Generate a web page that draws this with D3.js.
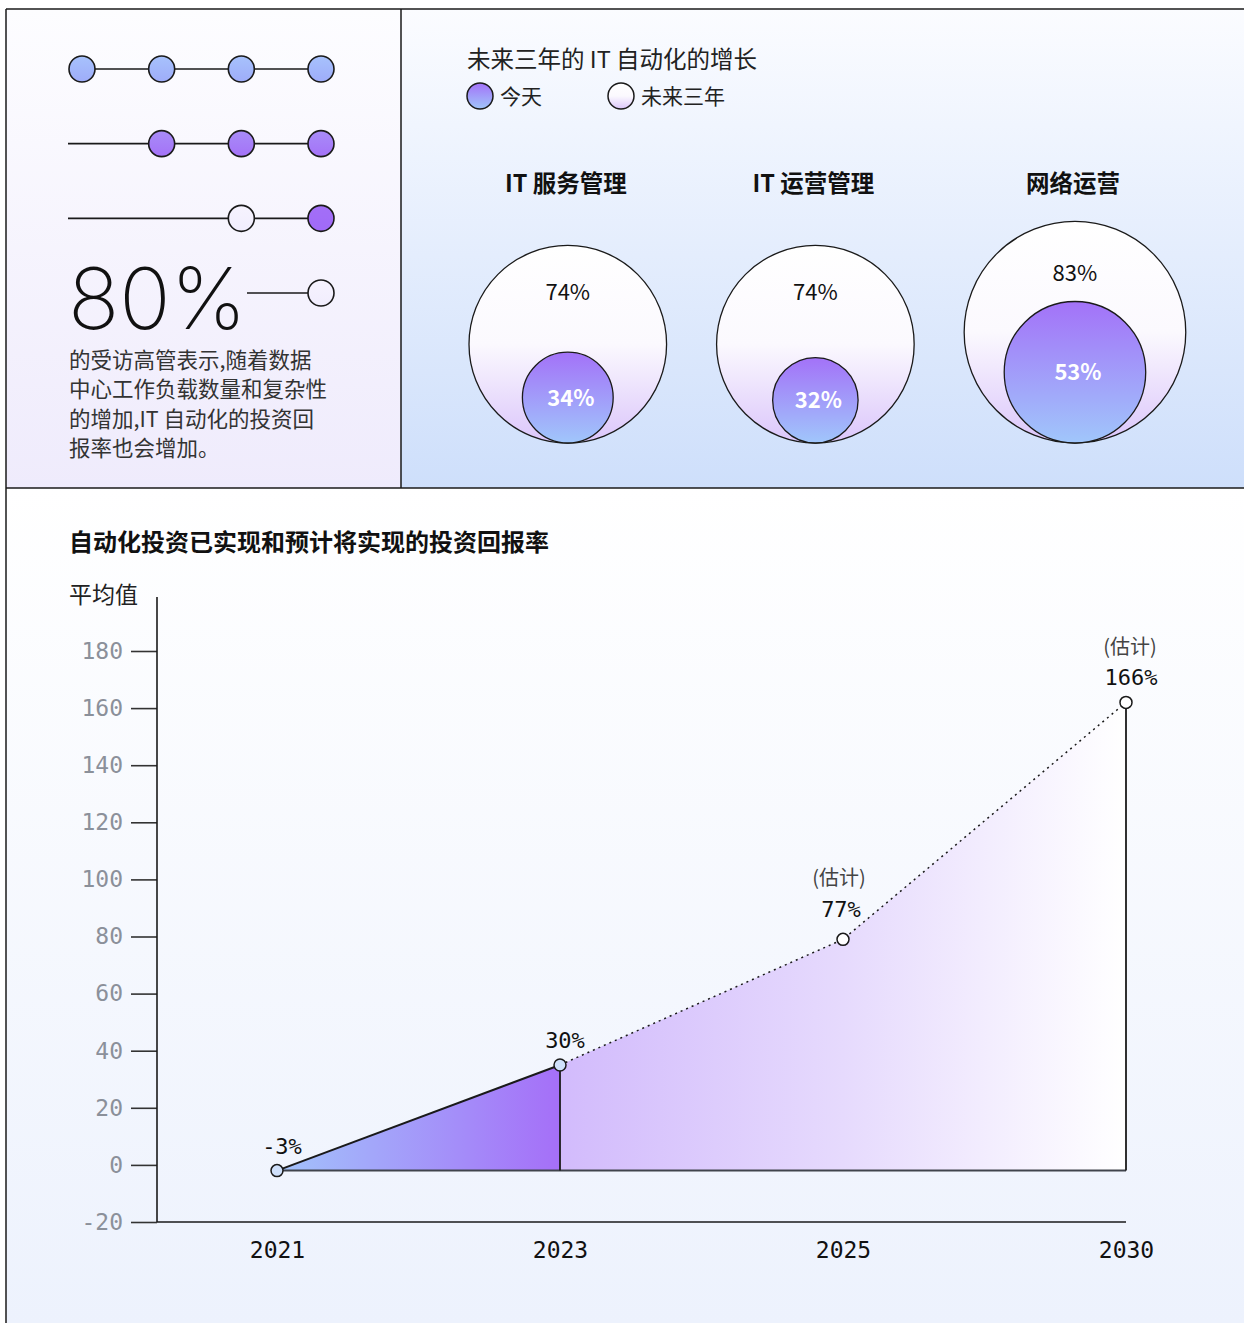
<!DOCTYPE html>
<html><head><meta charset="utf-8">
<script src="https://cdn.jsdelivr.net/npm/d3@7"></script>
<style>html,body{margin:0;padding:0;background:#fff;} svg{display:block;}</style>
</head><body><svg id="c" width="1244" height="1323"></svg>
<script>
// ---------- data ----------
const dotRowStates = [
  ["blue","blue","blue","blue"],
  [null,"purple","purple","purple"],
  [null,null,"light","violet"],
  [null,null,null,"light"]
];
const headlineValue = "80%";
const headlineText = ["的受访高管表示,随着数据","中心工作负载数量和复杂性","的增加,IT 自动化的投资回","报率也会增加。"];
const bubbleTitle = "未来三年的 IT 自动化的增长";
const legendLabels = ["今天","未来三年"];
const categories = ["IT 服务管理","IT 运营管理","网络运营"];
const todayValues = [34,32,53];
const futureValues = [74,74,83];
const chartTitle = "自动化投资已实现和预计将实现的投资回报率";
const yAxisLabel = "平均值";
const years = ["2021","2023","2025","2030"];
const roiValues = [-2,35,79,162];
const roiLabels = ["-3%","30%","77%","166%"];
const estimated = [false,false,true,true];
const estimateLabel = "(估计)";
const yTicks = [-20,0,20,40,60,80,100,120,140,160,180];

// ---------- setup ----------
const svg = d3.select("#c");
const CJK = "'Noto Sans CJK SC','Noto Sans',sans-serif";
const MONO = "'DejaVu Sans Mono','Liberation Mono',monospace";
const INK = "#1a1a1a";
const defs = svg.append("defs");
function vGrad(id, stops){
  const g = defs.append("linearGradient").attr("id",id).attr("x1",0).attr("y1",0).attr("x2",0).attr("y2",1);
  stops.forEach(s=>g.append("stop").attr("offset",s[0]).attr("stop-color",s[1]));
}
function hGrad(id, x1, x2, stops){
  const g = defs.append("linearGradient").attr("id",id).attr("gradientUnits","userSpaceOnUse")
    .attr("x1",x1).attr("y1",0).attr("x2",x2).attr("y2",0);
  stops.forEach(s=>g.append("stop").attr("offset",s[0]).attr("stop-color",s[1]));
}
vGrad("bgLeft",[[0,"#fdfdff"],[1,"#efebfc"]]);
vGrad("bgRight",[[0,"#fbfcff"],[1,"#cedffb"]]);
vGrad("bgBottom",[[0,"#ffffff"],[1,"#edf2fd"]]);
vGrad("dotBlue",[[0,"#a7c2fc"],[1,"#9eacf9"]]);
vGrad("dotPurple",[[0,"#a88cf8"],[1,"#a472f7"]]);
vGrad("dotViolet",[[0,"#a36ff7"],[1,"#a06af7"]]);
vGrad("dotLight",[[0,"#f6f3fe"],[1,"#f1edfd"]]);
vGrad("outerFill",[[0,"#ffffff"],[0.5,"#fbf9fe"],[1,"#dbc6fb"]]);
vGrad("innerFill",[[0,"#a372f8"],[1,"#a0c6fb"]]);

// panels
svg.append("rect").attr("x",6).attr("y",9).attr("width",395).attr("height",479).attr("fill","url(#bgLeft)");
svg.append("rect").attr("x",401).attr("y",9).attr("width",843).attr("height",479).attr("fill","url(#bgRight)");
svg.append("rect").attr("x",6).attr("y",488).attr("width",1238).attr("height",835).attr("fill","url(#bgBottom)");
const frame = svg.append("g").attr("stroke",INK).attr("stroke-width",1.5);
frame.append("line").attr("x1",6).attr("y1",9).attr("x2",1244).attr("y2",9);
frame.append("line").attr("x1",6).attr("y1",9).attr("x2",6).attr("y2",1323);
frame.append("line").attr("x1",401).attr("y1",9).attr("x2",401).attr("y2",488);
frame.append("line").attr("x1",6).attr("y1",488).attr("x2",1244).attr("y2",488);

// ---------- left panel ----------
const dx = d3.scalePoint().domain([0,1,2,3]).range([82,321]);
const dy = d3.scalePoint().domain([0,1,2,3]).range([69,293]);
const fillFor = {blue:"url(#dotBlue)",purple:"url(#dotPurple)",violet:"url(#dotViolet)",light:"url(#dotLight)"};
const rowsG = svg.append("g");
dotRowStates.forEach((row,ri)=>{
  const first = row.findIndex(s=>s!==null);
  const isLast = ri===dotRowStates.length-1;
  const xStart = first===0 ? dx(0) : (isLast ? 247 : 68);
  rowsG.append("line").attr("x1",xStart).attr("x2",dx(3)).attr("y1",dy(ri)).attr("y2",dy(ri))
    .attr("stroke",INK).attr("stroke-width",1.6);
  rowsG.selectAll(null).data(row.map((s,i)=>({s,i})).filter(d=>d.s)).join("circle")
    .attr("cx",d=>dx(d.i)).attr("cy",dy(ri)).attr("r",13)
    .attr("fill",d=>fillFor[d.s]).attr("stroke",INK).attr("stroke-width",1.6);
});
svg.append("text").attr("x",68).attr("y",329).text(headlineValue)
  .attr("font-family","Inter, Lato, sans-serif").attr("font-weight",200).attr("font-size",85)
  .attr("fill","#111");
svg.append("g").selectAll("text").data(headlineText).join("text")
  .attr("x",69).attr("y",(d,i)=>368+i*29.3).text(d=>d)
  .attr("font-family",CJK).attr("font-size",21.5).attr("fill","#333");

// ---------- right panel: bubbles ----------
svg.append("text").attr("x",467).attr("y",68).text(bubbleTitle)
  .attr("font-family",CJK).attr("font-size",23.5).attr("fill","#222");
const legend = svg.append("g");
const legendX = [480,621];
legendLabels.forEach((l,i)=>{
  legend.append("circle").attr("cx",legendX[i]).attr("cy",96).attr("r",13)
    .attr("fill",i===0?"url(#innerFill)":"url(#outerFill)").attr("stroke",INK).attr("stroke-width",1.5);
  legend.append("text").attr("x",legendX[i]+20).attr("y",104).text(l)
    .attr("font-family",CJK).attr("font-size",21).attr("fill","#222");
});
const rScale = d3.scaleLinear().domain([0,100]).range([0,133.5]);
const bubbleBottom = 443, gap = 50;
let cursor = 469;
const centers = futureValues.map(v=>{const r=rScale(v); const c=cursor+r; cursor += 2*r+gap; return c;});
const bub = svg.append("g").selectAll("g").data(categories).join("g");
bub.append("text").attr("x",(d,i)=>centers[i]-2).attr("y",192).attr("text-anchor","middle").text(d=>d)
  .attr("font-family",CJK).attr("font-weight",700).attr("font-size",23.5).attr("fill","#111");
bub.append("circle").attr("cx",(d,i)=>centers[i]).attr("cy",(d,i)=>bubbleBottom-rScale(futureValues[i]))
  .attr("r",(d,i)=>rScale(futureValues[i])).attr("fill","url(#outerFill)").attr("stroke",INK).attr("stroke-width",1.3);
bub.append("circle").attr("cx",(d,i)=>centers[i]).attr("cy",(d,i)=>bubbleBottom-rScale(todayValues[i]))
  .attr("r",(d,i)=>rScale(todayValues[i])).attr("fill","url(#innerFill)").attr("stroke",INK).attr("stroke-width",1.3);
bub.append("text").attr("x",(d,i)=>centers[i])
  .attr("y",(d,i)=>{const r=rScale(futureValues[i]); return bubbleBottom-2*r+0.47*r+8;})
  .attr("text-anchor","middle").text((d,i)=>futureValues[i]+"%")
  .attr("font-family",CJK).attr("font-size",22).attr("fill","#111");
bub.append("text").attr("x",(d,i)=>centers[i]+3)
  .attr("y",(d,i)=>bubbleBottom-rScale(todayValues[i])+8)
  .attr("text-anchor","middle").text((d,i)=>todayValues[i]+"%")
  .attr("font-family",CJK).attr("font-weight",600).attr("font-size",22).attr("fill","#fff");

// ---------- bottom chart ----------
svg.append("text").attr("x",69).attr("y",551).text(chartTitle)
  .attr("font-family",CJK).attr("font-weight",700).attr("font-size",24).attr("fill","#111");
svg.append("text").attr("x",69).attr("y",603).text(yAxisLabel)
  .attr("font-family",CJK).attr("font-size",23).attr("fill","#222");

const y = d3.scaleLinear().domain([-20,180]).range([1222,651]);
const x = d3.scalePoint().domain(years).range([277,1126]);
const axisX0 = 157;

// y axis
const yAxis = svg.append("g").attr("transform",`translate(${axisX0},0)`)
  .call(d3.axisLeft(y).tickValues(yTicks).tickFormat(d=>String(d)).tickSize(26).tickPadding(8));
yAxis.select(".domain").remove();
yAxis.selectAll(".tick line").attr("stroke","#333").attr("stroke-width",1.6);
yAxis.selectAll(".tick text").attr("font-family",MONO).attr("font-size",23).attr("fill","#8b909a");
svg.append("line").attr("x1",axisX0).attr("x2",axisX0).attr("y1",597).attr("y2",1222)
  .attr("stroke",INK).attr("stroke-width",1.6);
// x axis
const xAxis = svg.append("g").attr("transform","translate(0,1222)")
  .call(d3.axisBottom(x).tickSize(0).tickPadding(20));
xAxis.select(".domain").remove();
xAxis.selectAll(".tick text").attr("font-family",MONO).attr("font-size",23).attr("fill","#111");
svg.append("line").attr("x1",axisX0).attr("x2",x(years[3])).attr("y1",1222).attr("y2",1222)
  .attr("stroke",INK).attr("stroke-width",1.6);

// areas
const pts = years.map((yr,i)=>({yr,v:roiValues[i],i}));
const base = y(roiValues[0]);
hGrad("areaA", x(years[0]), x(years[1]), [[0,"#a2c3fb"],[1,"#a56ff8"]]);
hGrad("areaB", x(years[1]), x(years[3]), [[0,"#d2bbfc"],[0.5,"#e6dafd"],[1,"#ffffff"]]);
const area = d3.area().x(d=>x(d.yr)).y0(base).y1(d=>y(d.v));
svg.append("path").datum(pts.slice(0,2)).attr("d",area).attr("fill","url(#areaA)");
svg.append("path").datum(pts.slice(1)).attr("d",area).attr("fill","url(#areaB)");
// baseline
svg.append("line").attr("x1",x(years[0])).attr("x2",x(years[3])).attr("y1",base).attr("y2",base)
  .attr("stroke","#40444c").attr("stroke-width",2);
// verticals
[1,3].forEach(i=>{
  svg.append("line").attr("x1",x(years[i])).attr("x2",x(years[i])).attr("y1",y(roiValues[i])).attr("y2",base)
    .attr("stroke",INK).attr("stroke-width",1.8);
});
const line = d3.line().x(d=>x(d.yr)).y(d=>y(d.v));
svg.append("path").datum(pts.slice(0,2)).attr("d",line).attr("fill","none").attr("stroke",INK).attr("stroke-width",2);
svg.append("path").datum(pts.slice(1)).attr("d",line).attr("fill","none").attr("stroke",INK)
  .attr("stroke-width",1.5).attr("stroke-dasharray","2,4");
// points
svg.append("g").selectAll("circle").data(pts).join("circle")
  .attr("cx",d=>x(d.yr)).attr("cy",d=>y(d.v)).attr("r",6)
  .attr("fill",d=>estimated[d.i]?"#ffffff":"#cfe0fb").attr("stroke",INK).attr("stroke-width",1.5);
// labels
const lab = svg.append("g").selectAll("g").data(pts).join("g");
lab.append("text").attr("x",d=>x(d.yr)+(estimated[d.i]&&d.i<3?-2:5)).attr("y",d=>y(d.v)-(estimated[d.i]&&d.i<3?22:17)).attr("text-anchor","middle")
  .text(d=>roiLabels[d.i]).attr("font-family",MONO).attr("font-size",22).attr("fill","#111");
lab.filter(d=>estimated[d.i]).append("text").attr("x",d=>x(d.yr)+(d.i<3?-4:4)).attr("y",d=>y(d.v)-(d.i<3?54:48))
  .attr("text-anchor","middle").text(estimateLabel).attr("font-family",CJK).attr("font-size",20).attr("fill","#444");
</script></body></html>
